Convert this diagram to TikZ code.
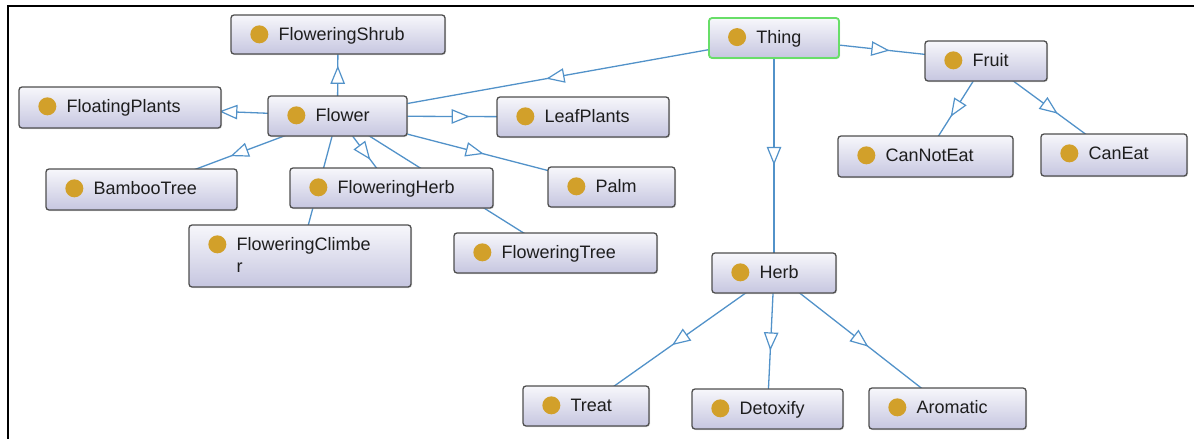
\documentclass[tikz,border=0pt]{standalone}
\usepackage{fontspec}
\setmainfont{Liberation Sans}
\usetikzlibrary{fit,decorations.markings,shadows}
\pgfdeclarelayer{background}
\pgfsetlayers{background,main}
\definecolor{edgeblue}{RGB}{82,146,201}
\definecolor{boxtop}{RGB}{247,247,251}
\definecolor{boxbot}{RGB}{198,198,224}
\definecolor{boxline}{RGB}{78,78,78}
\definecolor{dotgold}{RGB}{210,160,42}
\definecolor{thinggreen}{RGB}{104,222,104}
\definecolor{txtcol}{RGB}{30,30,30}
\tikzset{
  ogbox/.style={draw=boxline, line width=1.3pt, rounded corners=3pt,
    top color=boxtop, bottom color=boxbot, inner sep=0pt,
    drop shadow={shadow xshift=1pt, shadow yshift=-1pt, fill=black!30, opacity=0.5}},
  ogdot/.style={circle, fill=dotgold, minimum size=18pt, inner sep=0pt},
  oglabel/.style={font=\fontsize{18}{22}\selectfont, text=txtcol, inner sep=0pt, anchor=base west},
  isa/.style={draw=edgeblue, line width=1.3pt, postaction={decorate},
    decoration={markings, mark=at position 0.5 with {
      \draw[edgeblue, line width=1.2pt, fill=white, line join=miter]
        (8pt,0pt) -- (-8pt,6.5pt) -- (-8pt,-6.5pt) -- cycle;}}},
}
\newcommand{\ogclass}[5][]{%
  \node[ogbox,#1,fit={(#3) (#4)}] (#2) {};
  \node[ogdot] (#2-dot) at ([xshift=29pt,yshift=-20pt]#2.north west) {};
  \node[oglabel] (#2-txt) at ([xshift=48pt,yshift=-26.5pt]#2.north west) {#5};
}
\begin{document}
\begin{tikzpicture}[x=1pt,y=-1pt]
\useasboundingbox (0,0) rectangle (1194,439);
\draw[line width=2pt] (8,439) -- (8,6) -- (1194,6);

\ogclass{shrub}{231,15}{445,54}{FloweringShrub}
\ogclass{floating}{19,87}{221,128}{FloatingPlants}
\ogclass{flower}{268,96}{407,136}{Flower}
\ogclass{bamboo}{46,169}{237,210}{BambooTree}
\ogclass{fherb}{290,168}{493,208}{FloweringHerb}
\ogclass{leaf}{497,97}{669,137}{LeafPlants}
\ogclass{palm}{548,167}{675,207}{Palm}
\ogclass{fclimber}{189,225}{411,287}{\begin{tabular}[t]{@{}l@{}}FloweringClimbe\\r\end{tabular}}
\ogclass{ftree}{454,233}{657,273}{FloweringTree}
\ogclass[draw=thinggreen,line width=1.8pt]{thing}{709,18}{839,58}{Thing}
\ogclass{fruit}{925,41}{1047,81}{Fruit}
\ogclass{cannot}{838,136}{1013,177}{CanNotEat}
\ogclass{caneat}{1041,134}{1187,176}{CanEat}
\ogclass{herb}{712,253}{836,293}{Herb}
\ogclass{treat}{523,386}{649,426}{Treat}
\ogclass{detox}{692,389}{843,429}{Detoxify}
\ogclass{aromatic}{869,388}{1026,429}{Aromatic}

\begin{pgfonlayer}{background}
\draw[isa] (thing.center) -- (flower.center);
\draw[isa] (thing.center) -- (fruit.center);
\draw[isa] (thing.center) -- (herb.center);
\draw[isa] (fruit.center) -- (cannot.center);
\draw[isa] (fruit.center) -- (caneat.center);
\draw[isa] (herb.center) -- (treat.center);
\draw[isa] (herb.center) -- (detox.center);
\draw[isa] (herb.center) -- (aromatic.center);
\draw[isa] (flower.center) -- (shrub.center);
\draw[isa] (flower.center) -- (floating.center);
\draw[isa] (flower.center) -- (leaf.center);
\draw[isa] (flower.center) -- (bamboo.center);
\draw[isa] (flower.center) -- (fherb.center);
\draw[isa] (flower.center) -- (palm.center);
\draw[isa] (flower.center) -- (fclimber.center);
\draw[isa] (flower.center) -- (ftree.center);
\end{pgfonlayer}
\end{tikzpicture}
\end{document}
